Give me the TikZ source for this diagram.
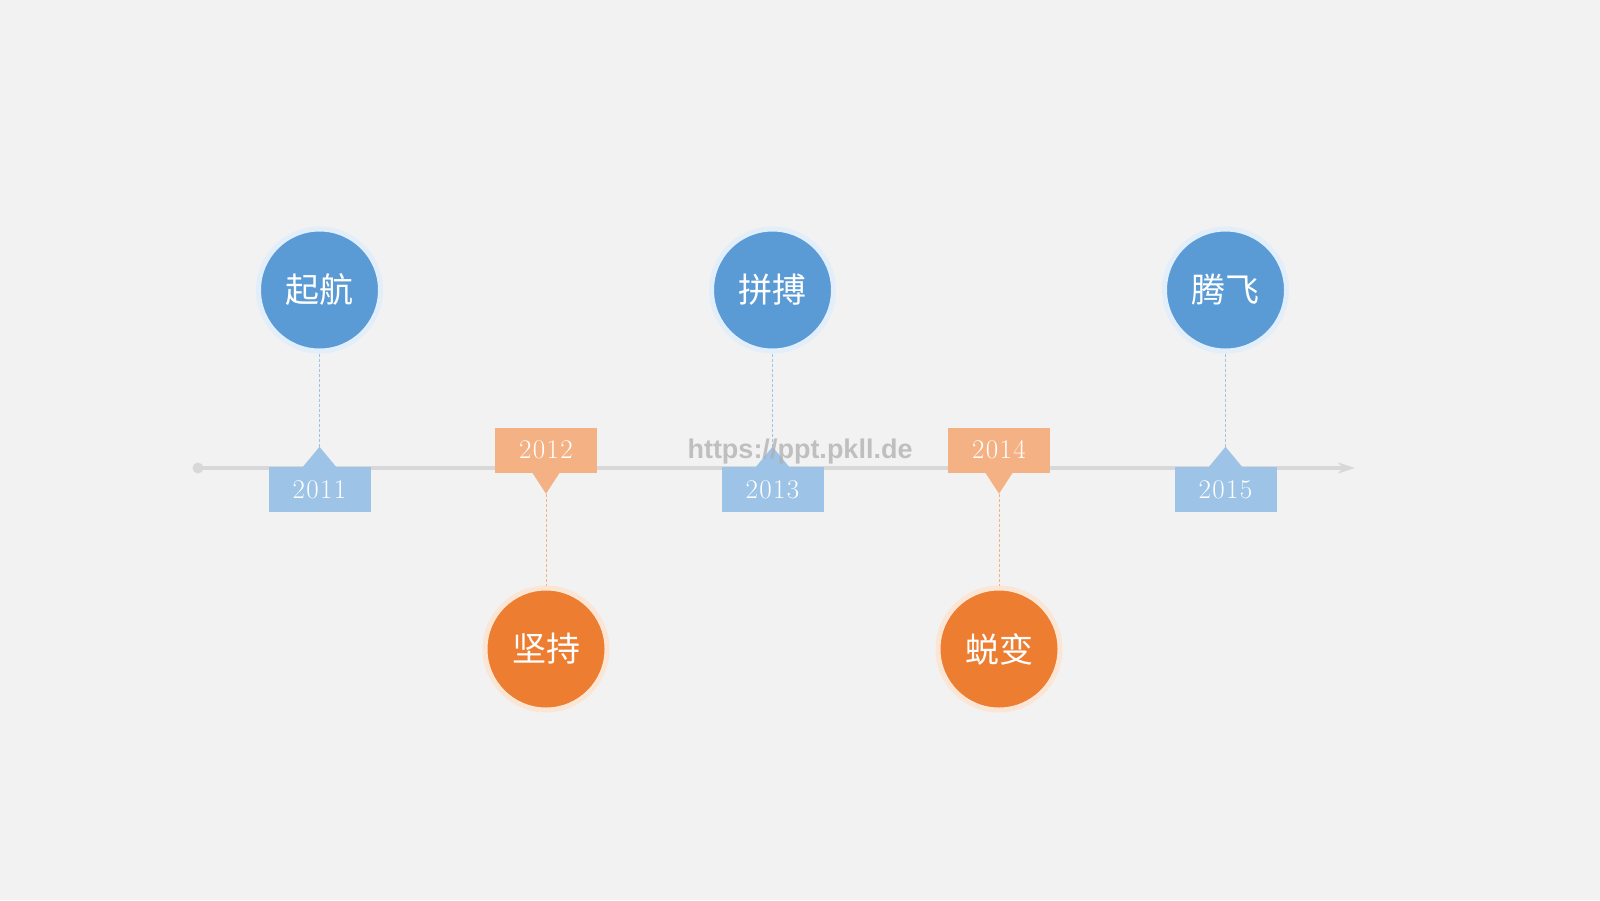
\documentclass[tikz,border=0pt]{standalone}
\usepackage{fontspec}
\newfontfamily\cjk{Noto Sans CJK SC}
\newfontfamily\yearfont[LetterSpace=5]{Latin Modern Roman}
\newfontfamily\wmfont{Liberation Sans}
\usetikzlibrary{arrows.meta}
\definecolor{bg}{RGB}{242,242,242}
\definecolor{cblue}{RGB}{91,155,213}
\definecolor{corange}{RGB}{237,125,49}
\definecolor{hblue}{RGB}{226,238,250}
\definecolor{horange}{RGB}{251,230,214}
\definecolor{bblue}{RGB}{157,195,230}
\definecolor{borange}{RGB}{244,177,131}
\definecolor{tline}{RGB}{216,216,216}
\definecolor{wm}{RGB}{175,175,175}
\tikzset{
  bigcircle/.style={circle, minimum size=122pt, inner sep=0pt, line width=5pt,
    text=white, font=\cjk\fontsize{34}{40}\selectfont},
  bluecircle/.style={bigcircle, fill=cblue, draw=hblue},
  orangecircle/.style={bigcircle, fill=corange, draw=horange},
  yearbox/.style={rectangle, minimum width=102pt, minimum height=45pt, inner sep=0pt,
    text=white, font=\yearfont\fontsize{27}{30}\selectfont},
  blueyear/.style={yearbox, fill=bblue},
  orangeyear/.style={yearbox, fill=borange},
  bluedash/.style={draw=cblue!60, line width=0.8pt, dash pattern=on 3pt off 2pt},
  orangedash/.style={draw=corange!60, line width=0.8pt, dash pattern=on 3pt off 2pt},
  timeline/.style={draw=tline, line width=4pt, -{Stealth[length=17pt,width=11pt,inset=5pt]}},
}
\begin{document}
\begin{tikzpicture}[x=1pt,y=-1pt]
\fill[bg] (0,0) rectangle (1600,900);
\useasboundingbox (0,0) rectangle (1600,900);

% timeline
\coordinate (s) at (198,468);
\coordinate (e) at (1355,468);
\draw[timeline] (s) -- (e);
\fill[tline] (s) circle (5.5);

% year boxes
\node[blueyear]   (b1) at (319.5,489.5) {2011};
\node[orangeyear] (b2) at (546,450)     {\raisebox{-2pt}{2012}};
\node[blueyear]   (b3) at (772.5,489.5) {2013};
\node[orangeyear] (b4) at (999,450)     {\raisebox{-2pt}{2014}};
\node[blueyear]   (b5) at (1225.5,489.5){2015};

% pointer triangles
\foreach \b in {b1,b3,b5}{
  \coordinate (t\b) at ([yshift=20pt]\b.north);
  \fill[bblue] ([xshift=-17pt,yshift=-0.5pt]\b.north) -- (t\b) -- ([xshift=17pt,yshift=-0.5pt]\b.north) -- cycle;
}
\foreach \b in {b2,b4}{
  \coordinate (t\b) at ([yshift=-21pt]\b.south);
  \fill[borange] ([xshift=-14pt,yshift=0.5pt]\b.south) -- (t\b) -- ([xshift=14pt,yshift=0.5pt]\b.south) -- cycle;
}

% circles
\node[bluecircle]   (c1) at (319.5,290) {起航};
\node[orangecircle] (c2) at (546,649)   {坚持};
\node[bluecircle]   (c3) at (772.5,290) {拼搏};
\node[orangecircle] (c4) at (999,649)   {蜕变};
\node[bluecircle]   (c5) at (1225.5,290){腾飞};

% connectors
\draw[bluedash]   (c1) -- (tb1);
\draw[orangedash] (tb2) -- (c2);
\draw[bluedash]   (c3) -- (tb3);
\draw[orangedash] (tb4) -- (c4);
\draw[bluedash]   (c5) -- (tb5);

% watermark
\node[text=wm, opacity=0.75, font=\wmfont\bfseries\fontsize{27}{30}\selectfont, inner sep=0pt] (wmk) at (800,452) {https://ppt.pkll.de};
\end{tikzpicture}
\end{document}
